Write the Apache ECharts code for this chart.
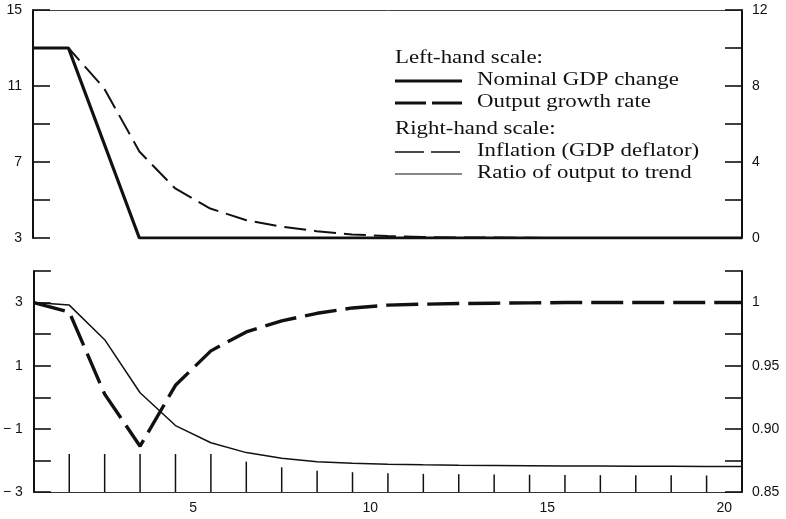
<!DOCTYPE html>
<html>
<head>
<meta charset="utf-8">
<script src="https://cdn.jsdelivr.net/npm/echarts@6/dist/echarts.min.js"></script>
<style>
  html, body { margin: 0; padding: 0; background: #fff; }
  #chart { width: 786px; height: 519px; }
</style>
</head>
<body>
<div id="chart"></div>
<script>
// Periods 0..20 of the simulated disinflation path
const periods = [0,1,2,3,4,5,6,7,8,9,10,11,12,13,14,15,16,17,18,19,20];
// Tick-label categories for the period axis
const periodLabels = ['1','2','3','4','5','6','7','8','9','10','11','12','13','14','15','16','17','18','19','20'];
// Interior period markers along the lower panel's base
const markerPeriods = [1,2,3,4,5,6,7,8,9,10,11,12,13,14,15,16,17,18,19];

// Left-hand scale (upper panel): nominal GDP change, %
const nominalGdp = [13,13,8,3,3,3,3,3,3,3,3,3,3,3,3,3,3,3,3,3,3];
// Right-hand scale (upper panel): inflation (GDP deflator), %
const inflation = [10,10,7.9,4.55,2.63,1.55,0.95,0.6,0.36,0.19,0.1,0.05,0.03,0.02,0.01,0,0,0,0,0,0];
// Left-hand scale (lower panel): output growth rate, %
const outputGrowth = [3,2.7,0.1,-1.55,0.38,1.47,2.07,2.42,2.66,2.83,2.92,2.95,2.97,2.98,2.99,3,3,3,3,3,3];
// Right-hand scale (lower panel): ratio of output to trend
const outputRatio = [1.0,0.998,0.9706,0.9286,0.9026,0.889,0.8812,0.8767,0.874,0.8728,0.872,0.8715,0.8712,0.871,0.8708,0.8706,0.8705,0.8704,0.8703,0.8702,0.8702];

// Labelled values on each vertical axis
const topLeftLabels = [3,7,11,15];
const topRightLabels = [0,4,8,12];
const bottomLeftLabels = [-3,-1,1,3];
const bottomRightLabels = ['0.85','0.90','0.95','1'];

const pairs = (ys) => periods.map((p, i) => [p, ys[i]]);
const ink = '#111';
const labelFont = { fontFamily: 'Liberation Sans', fontSize: 14, color: ink };

function yAxisBase(extra) {
  return Object.assign({
    type: 'value',
    splitLine: { show: false },
    axisLine: { show: true, onZero: false, lineStyle: { color: ink, width: 2 } },
    axisTick: { show: true, inside: true, length: 17, lineStyle: { color: ink, width: 1.6 } },
    axisLabel: Object.assign({ margin: 11 }, labelFont)
  }, extra);
}

function pick(list, fmt) {
  return function (v) {
    for (const item of list) {
      if (Math.abs(Number(item) - v) < 1e-6) return fmt ? fmt(item) : String(item);
    }
    return '';
  };
}

const chart = echarts.init(document.getElementById('chart'), null, { renderer: 'canvas' });

// Legend block: two headed groups, each with a line sample and a caption
const serif = 'Liberation Serif';
const legendX = 395, textX = 477;
const legendRows = [
  { kind: 'head', text: 'Left-hand scale:', y: 58 },
  { kind: 'item', text: 'Nominal GDP change', y: 80, width: 3, dash: null },
  { kind: 'item', text: 'Output growth rate', y: 102, width: 3, dash: [31, 6] },
  { kind: 'head', text: 'Right-hand scale:', y: 129 },
  { kind: 'item', text: 'Inflation (GDP deflator)', y: 151, width: 1.6, dash: [29, 7] },
  { kind: 'item', text: 'Ratio of output to trend', y: 173, width: 1.2, dash: null }
];
const legendGraphics = [];
legendRows.forEach(r => {
  const txt = { type: 'text', x: r.kind === 'head' ? legendX : textX, y: r.y, scaleX: 1.27,
    style: { text: r.text, font: '18px "' + serif + '"', fill: ink, textVerticalAlign: 'middle', verticalAlign: 'middle' } };
  if (r.kind === 'item') {
    legendGraphics.push({ type: 'line', shape: { x1: legendX, y1: r.y + 1, x2: 462, y2: r.y + 1 },
      style: { stroke: ink, lineWidth: r.width, lineDash: r.dash } });
  }
  legendGraphics.push(txt);
});

const option = {
  animation: false,
  backgroundColor: '#fff',
  grid: [
    { left: 33, right: 44, top: 10, height: 228 },
    { left: 33, right: 44, top: 271, height: 221 }
  ],
  xAxis: [
    { gridIndex: 0, type: 'value', min: 0, max: 20, position: 'top',
      axisLine: { show: true, onZero: false, lineStyle: { color: '#444', width: 1 } },
      axisTick: { show: false }, axisLabel: { show: false }, splitLine: { show: false } },
    { gridIndex: 1, type: 'value', min: 0, max: 20, position: 'bottom',
      axisLine: { show: true, onZero: false, lineStyle: { color: '#333', width: 1 } },
      axisTick: { show: false }, axisLabel: { show: false }, splitLine: { show: false } },
    { gridIndex: 1, type: 'category', data: periodLabels, boundaryGap: true, position: 'bottom',
      axisLine: { show: false, onZero: false }, axisTick: { show: false }, splitLine: { show: false },
      axisLabel: Object.assign({ margin: 9, interval: (i, v) => Number(v) % 5 === 0 }, labelFont) }
  ],
  yAxis: [
    yAxisBase({ gridIndex: 0, position: 'left', min: 3, max: 15, interval: 2,
      axisLabel: Object.assign({ margin: 11, formatter: pick(topLeftLabels) }, labelFont) }),
    yAxisBase({ gridIndex: 0, position: 'right', min: 0, max: 12, interval: 2,
      axisLabel: Object.assign({ margin: 10, formatter: pick(topRightLabels) }, labelFont) }),
    yAxisBase({ gridIndex: 1, position: 'left', min: -3, max: 4, interval: 1,
      axisLabel: Object.assign({ margin: 11, formatter: pick(bottomLeftLabels, v => v < 0 ? '\u2212 ' + Math.abs(v) : String(v)) }, labelFont) }),
    yAxisBase({ gridIndex: 1, position: 'right', min: 0.85, max: 1.025, interval: 0.025,
      axisLabel: Object.assign({ margin: 10, formatter: pick(bottomRightLabels) }, labelFont) })
  ],
  series: [
    { name: 'Nominal GDP change', type: 'line', xAxisIndex: 0, yAxisIndex: 0,
      data: pairs(nominalGdp), symbol: 'none', z: 4,
      lineStyle: { color: ink, width: 3.2 } },
    { name: 'Inflation (GDP deflator)', type: 'line', xAxisIndex: 0, yAxisIndex: 1,
      data: pairs(inflation), symbol: 'none', z: 3,
      lineStyle: { color: ink, width: 2, type: [22, 8] } },
    { name: 'Output growth rate', type: 'line', xAxisIndex: 1, yAxisIndex: 2,
      data: pairs(outputGrowth), symbol: 'none', z: 4,
      lineStyle: { color: ink, width: 3.4, type: [32, 9] } },
    { name: 'Ratio of output to trend', type: 'line', xAxisIndex: 1, yAxisIndex: 3,
      data: pairs(outputRatio), symbol: 'none', z: 3,
      lineStyle: { color: ink, width: 1.5 } },
    { name: 'period markers', type: 'custom', xAxisIndex: 1, yAxisIndex: 3,
      data: markerPeriods.map(p => [p, outputRatio[p]]),
      silent: true, z: 2,
      renderItem: function (params, api) {
        const base = api.coord([api.value(0), 0.85]);
        const curve = api.coord([api.value(0), api.value(1)]);
        const top = Math.max(base[1] - 38, curve[1] + 9);
        return { type: 'line', shape: { x1: base[0], y1: base[1], x2: base[0], y2: top },
          style: { stroke: ink, lineWidth: 1.5 } };
      } }
  ],
  graphic: legendGraphics
};

chart.setOption(option);
</script>
</body>
</html>
